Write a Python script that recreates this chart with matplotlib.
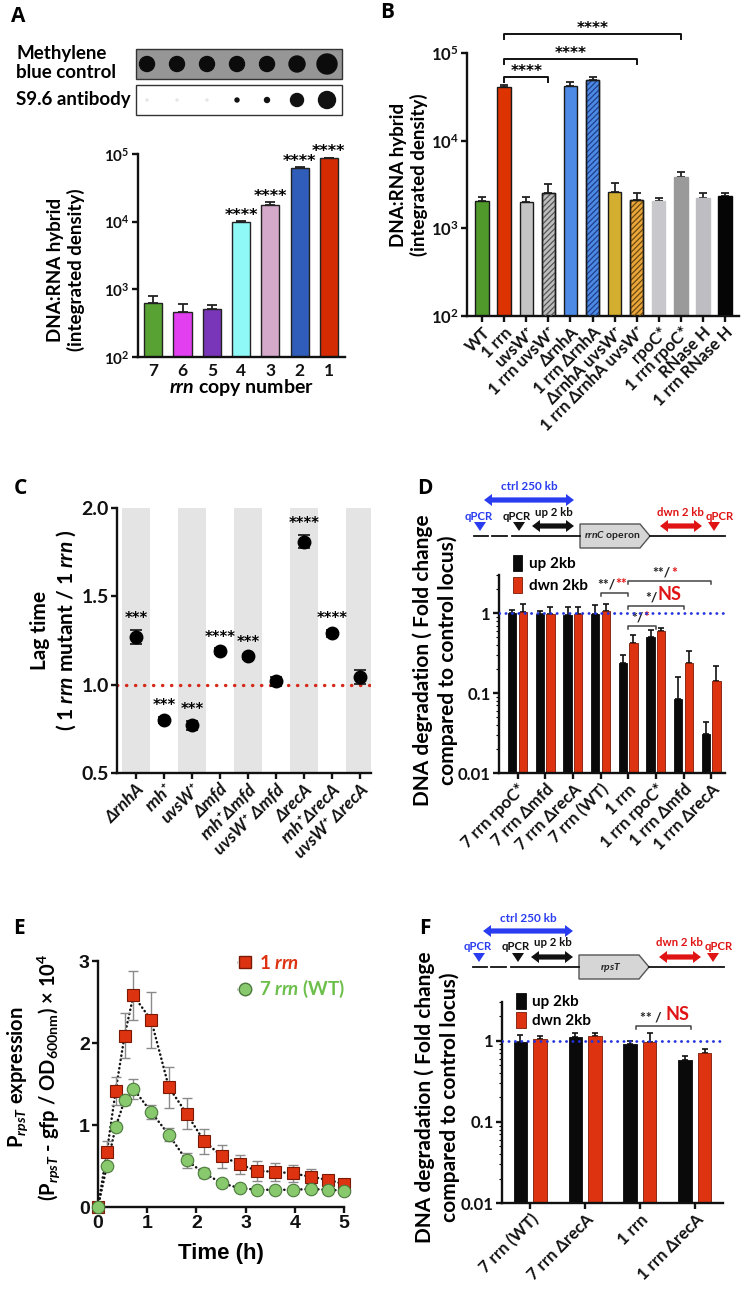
import numpy as np
import matplotlib
matplotlib.use('Agg')
import matplotlib.pyplot as plt
from matplotlib.patches import Polygon, Circle, Rectangle, Patch
from matplotlib.lines import Line2D
from matplotlib.ticker import FixedLocator, FixedFormatter, NullLocator, LogLocator, NullFormatter

plt.rcParams['font.family'] = ['Lato', 'DejaVu Sans']
plt.rcParams['font.weight'] = 'bold'
plt.rcParams['axes.labelweight'] = 'bold'
plt.rcParams['mathtext.fontset'] = 'custom'
plt.rcParams['mathtext.rm'] = 'Lato:bold'
plt.rcParams['mathtext.it'] = 'Lato:italic:bold'
plt.rcParams['mathtext.bf'] = 'Lato:bold'
plt.rcParams['hatch.linewidth'] = 0.9

# ---------------- DATA ----------------
# Panel A
a_labels = ['7', '6', '5', '4', '3', '2', '1']
a_values = [620, 470, 520, 10000, 17800, 62000, 87000]
a_err = [190, 130, 60, 150, 1700, 1500, 1500]
a_colors = ['#57a232', '#e23ff0', '#7a36b9', '#8ff9f7', '#d5a9c9', '#2f5db9', '#d42b02']
a_sig = ['', '', '', '****', '****', '****', '****']
blot_methylene = [15, 15, 15, 15, 15, 16, 20]   # dot diameters (px)
blot_s96 = [2, 2, 2, 4, 5, 13, 17]

# Panel B
b_labels = ['WT', '1 rrn', 'uvsW⁺', '1 rrn uvsW⁺', 'ΔrnhA', '1 rrn ΔrnhA', 'ΔrnhA uvsW⁺',
            '1 rrn ΔrnhA uvsW⁺', 'rpoC*', '1 rrn rpoC*', 'RNase H', '1 rrn RNase H']
b_values = [2040, 41000, 1990, 2500, 42000, 49000, 2600, 2100, 2040, 3900, 2200, 2320]
b_err = [210, 2500, 260, 700, 5000, 4000, 650, 400, 160, 450, 300, 180]
b_colors = ['#4f9a2b', '#dc3300', '#c4c4c4', '#bdbdbd', '#4c8ae6', '#4c8ae6', '#d4af2f',
            '#eaa63a', '#c8c8cc', '#9a9a9a', '#bdbdc2', '#050505']
b_edges = ['#1a1a1a', '#1a1a1a', '#1a1a1a', '#1a1a1a', '#1a1a1a', '#1a1a1a', '#1a1a1a',
           '#1a1a1a', '#c8c8cc', '#9a9a9a', '#bdbdc2', '#050505']
b_hatch = [None, None, None, '//////', None, '//////', None, '//////', None, None, None, None]
b_hatch_colors = [None, None, None, '#555555', None, '#1f3f8a', None, '#6a4a10', None, None, None, None]
b_brackets = [(1, 3, '****'), (1, 7, '****'), (1, 9, '****')]
b_bracket_y = [53200, 85000, 165000]

# Panel C
c_labels = ['ΔrnhA', 'rnh⁺', 'uvsW⁺', 'Δmfd', 'rnh⁺Δmfd', 'uvsW⁺ Δmfd', 'ΔrecA', 'rnh⁺ΔrecA', 'uvsW⁺ ΔrecA']
c_values = [1.27, 0.80, 0.77, 1.19, 1.16, 1.02, 1.81, 1.29, 1.045]
c_err = [0.04, 0.015, 0.025, 0.015, 0.015, 0.025, 0.035, 0.02, 0.04]
c_sig = ['***', '***', '***', '****', '***', '', '****', '****', '']

# Panel D
d_labels = ['7 rrn rpoC*', '7 rrn Δmfd', '7 rrn ΔrecA', '7 rrn (WT)', '1 rrn',
            '1 rrn rpoC*', '1 rrn Δmfd', '1 rrn ΔrecA']
d_up = [1.0, 0.97, 0.95, 0.97, 0.24, 0.50, 0.085, 0.031]
d_up_err = [0.10, 0.08, 0.24, 0.30, 0.06, 0.11, 0.075, 0.012]
d_dwn = [1.02, 0.98, 0.97, 1.05, 0.42, 0.60, 0.235, 0.14]
d_dwn_err = [0.28, 0.22, 0.21, 0.25, 0.11, 0.05, 0.10, 0.08]
d_brackets = [(3, 4, '**/', '**', 1.78), (4, 7, '**/', '*', 2.5), (4, 6, '*/', 'NS', 1.22), (4, 5, '*/', '*', 0.69)]

# Panel E
e_time = [0, 0.18, 0.36, 0.54, 0.72, 1.08, 1.44, 1.80, 2.16, 2.52, 2.88, 3.24, 3.60, 3.96, 4.32, 4.68, 5.0]
e_one = [0.0, 0.67, 1.42, 2.09, 2.58, 2.28, 1.46, 1.14, 0.80, 0.62, 0.52, 0.44, 0.43, 0.41, 0.37, 0.33, 0.28]
e_one_err = [0.0, 0.13, 0.17, 0.27, 0.30, 0.34, 0.25, 0.19, 0.15, 0.14, 0.12, 0.12, 0.11, 0.10, 0.09, 0.05, 0.03]
e_wt = [0.0, 0.50, 0.98, 1.30, 1.44, 1.16, 0.88, 0.57, 0.41, 0.29, 0.23, 0.21, 0.21, 0.21, 0.22, 0.21, 0.20]
e_wt_err = [0.0, 0.03, 0.04, 0.06, 0.12, 0.09, 0.08, 0.09, 0.06, 0.05, 0.03, 0.02, 0.02, 0.02, 0.02, 0.02, 0.02]

# Panel F
f_labels = ['7 rrn (WT)', '7 rrn ΔrecA', '1 rrn', '1 rrn ΔrecA']
f_up = [0.97, 1.12, 0.90, 0.58]
f_up_err = [0.20, 0.11, 0.08, 0.07]
f_dwn = [1.05, 1.14, 0.97, 0.70]
f_dwn_err = [0.10, 0.09, 0.26, 0.10]
f_brackets = [(1.93, 2.93, '** / ', 'NS', 1.52)]

RED = '#d93010'
BLACK = '#0a0a0a'
STAR_FONT = ['DejaVu Sans']

# ---------------- FIGURE ----------------
W, H = 744, 1300
fig = plt.figure(figsize=(W / 100, H / 100), dpi=100)


def rect(x0, y0, x1, y1):
    return [x0 / W, 1 - y1 / H, (x1 - x0) / W, (y1 - y0) / H]


def ftext(x, y, s, **kw):
    return fig.text(x / W, 1 - y / H, s, **kw)


def style(ax, lw=1.7):
    for s in ['top', 'right']:
        ax.spines[s].set_visible(False)
    for s in ['left', 'bottom']:
        ax.spines[s].set_linewidth(lw)
        ax.spines[s].set_color('#111111')
    ax.tick_params(width=lw, length=4, direction='out', colors='#111111', pad=2)
    ax.patch.set_alpha(0)


# overlay for schematics (pixel units)
ov = fig.add_axes([0, 0, 1, 1])
ov.set_xlim(0, W)
ov.set_ylim(H, 0)
ov.axis('off')

# panel letters
for lab, (x, y) in zip('ABCDEF', [(18, 17), (387, 13), (20, 488), (425, 489), (19, 928), (425, 928)]):
    ftext(x, y, lab, fontsize=15, ha='center', va='center', family=['Open Sans', 'DejaVu Sans'])

# ---- Panel A: blot ----
ov.add_patch(Rectangle((136, 49), 206, 30, facecolor='#969696', edgecolor='#333', lw=1))
ov.add_patch(Rectangle((136, 85), 206, 30, facecolor='white', edgecolor='#333', lw=1))
for i, (d1, d2) in enumerate(zip(blot_methylene, blot_s96)):
    cx = 147 + 30 * i
    ov.add_patch(Circle((cx, 64), d1 / 2, color='#0c0c0c'))
    ov.add_patch(Circle((cx, 100), d2 / 2, color='#111' if d2 > 3 else '#e6e6e6'))
ftext(16, 63, 'Methylene\nblue control', fontsize=13.5, ha='left', va='center', linespacing=1.2)
ftext(16, 100, 'S9.6 antibody', fontsize=13.5, ha='left', va='center')

# ---- Panel A: chart ----
axA = fig.add_axes(rect(138, 154, 345, 357))
style(axA)
xa = np.arange(len(a_labels))
axA.errorbar(xa, a_values, yerr=[np.zeros(len(xa)), a_err], fmt='none', ecolor='#222',
             elinewidth=1.3, capsize=3.5, capthick=1.3, zorder=1)
axA.bar(xa, a_values, width=0.62, color=a_colors, edgecolor='#222', linewidth=1.0, zorder=2)
axA.set_yscale('log')
axA.set_ylim(1e2, 1e5)
axA.set_xlim(-0.52, 6.55)
axA.yaxis.set_minor_locator(NullLocator())
axA.set_xticks(xa)
axA.set_xticklabels(a_labels, fontsize=12.5)
axA.tick_params(axis='x', length=0, pad=4)
axA.tick_params(axis='y', labelsize=11)
for i, s in enumerate(a_sig):
    if s:
        axA.annotate(s, (i, a_values[i] + a_err[i]), xytext=(0, 1), textcoords='offset points',
                     ha='center', va='baseline', fontsize=11.5, annotation_clip=False, family=STAR_FONT)
ftext(241, 387, r'$\it{rrn}$ copy number', fontsize=14, ha='center', va='center')
ftext(66, 270, 'DNA:RNA hybrid\n(integrated density)', fontsize=13.5, rotation=90,
      ha='center', va='center', linespacing=1.2)

# ---- Panel B ----
axB = fig.add_axes(rect(467, 53, 739, 316))
style(axB)
xb = np.arange(len(b_labels))
axB.errorbar(xb, b_values, yerr=[np.zeros(len(xb)), b_err], fmt='none', ecolor='#222',
             elinewidth=1.3, capsize=3, capthick=1.3, zorder=1)
axB.bar(xb, b_values, width=0.6, color=b_colors, edgecolor=b_edges, linewidth=1.0, zorder=2)
for i, h in enumerate(b_hatch):
    if h:
        axB.bar(xb[i], b_values[i], width=0.6, color='none', edgecolor=b_hatch_colors[i],
                hatch=h, linewidth=0, zorder=3)
        axB.bar(xb[i], b_values[i], width=0.6, color='none', edgecolor='#1a1a1a', linewidth=1.0, zorder=4)
axB.set_yscale('log')
axB.set_ylim(1e2, 1e5)
axB.set_xlim(-0.68, 11.63)
axB.yaxis.set_minor_locator(NullLocator())
axB.set_xticks(xb)
axB.set_xticklabels(b_labels, fontsize=12, rotation=45, ha='right', rotation_mode='anchor')
axB.tick_params(axis='y', labelsize=12)
for (i0, i1, s), yb in zip(b_brackets, b_bracket_y):
    axB.plot([i0, i0, i1, i1], [yb * 0.88, yb, yb, yb * 0.88], color='#111', lw=1.4,
             clip_on=False)
    axB.annotate(s, ((i0 + i1) / 2, yb), xytext=(0, 1), textcoords='offset points',
                 ha='center', va='baseline', fontsize=11, annotation_clip=False, family=STAR_FONT)
ftext(409, 175, 'DNA:RNA hybrid\n(integrated density)', fontsize=13.5, rotation=90,
      ha='center', va='center', linespacing=1.2)

# ---- Panel C ----
axC = fig.add_axes(rect(117, 508, 371, 773))
style(axC)
xc = np.arange(len(c_labels))
for i in xc[::2]:
    axC.axvspan(i - 0.5, i + 0.5, color='#e4e4e4', lw=0, zorder=0)
axC.axhline(1.0, color='#d52a1a', lw=2.4, linestyle=(0, (0.1, 2.6)), dash_capstyle='round', zorder=1)
axC.errorbar(xc, c_values, yerr=c_err, fmt='o', color='black', ms=9, ecolor='#111',
             elinewidth=1.2, capsize=4, capthick=1.2, zorder=3)
axC.set_xlim(-0.68, 8.39)
axC.set_ylim(0.5, 2.0)
axC.set_yticks([0.5, 1.0, 1.5, 2.0])
axC.set_yticklabels(['0.5', '1.0', '1.5', '2.0'], fontsize=14)
axC.set_xticks(xc)
axC.set_xticklabels(c_labels, fontsize=12.5, rotation=45, ha='right', rotation_mode='anchor',
                    style='italic')
for i, s in enumerate(c_sig):
    if s:
        axC.annotate(s, (i, c_values[i] + c_err[i]), xytext=(0, 5), textcoords='offset points',
                     ha='center', va='baseline', fontsize=10.5, annotation_clip=False, family=STAR_FONT)
ftext(54, 630, 'Lag time\n( 1 $\\it{rrn}$ mutant / 1 $\\it{rrn}$ )', fontsize=15, rotation=90,
      ha='center', va='center', linespacing=1.25)


# ---- schematics D / F ----
def dbl_arrow(x0, x1, yc, color, t=2.6, h=6, L=8):
    pts = [(x0, yc), (x0 + L, yc - h), (x0 + L, yc - t), (x1 - L, yc - t), (x1 - L, yc - h),
           (x1, yc), (x1 - L, yc + h), (x1 - L, yc + t), (x0 + L, yc + t), (x0 + L, yc + h)]
    ov.add_patch(Polygon(pts, closed=True, color=color, lw=0))


def tri(x, y, color):
    ov.add_patch(Polygon([(x - 6, y - 5), (x + 6, y - 5), (x, y + 4)], closed=True, color=color, lw=0))


def schematic(dy, dx, label):
    blue = '#2a3cf0'
    red = '#e01414'
    ly = 536 + dy
    for a, b in [(474, 488), (492, 507)]:
        ov.plot([a + dx, b + dx], [ly, ly], color='#111', lw=1.3)
    ov.plot([512 + dx, 580 + dx], [ly, ly], color='#111', lw=1.3)
    ov.plot([650 + dx, 725 + dx], [ly, ly], color='#111', lw=1.3)
    ov.add_patch(Polygon([(580 + dx, ly - 12), (640 + dx, ly - 12), (650 + dx, ly), (640 + dx, ly + 12),
                          (580 + dx, ly + 12)], closed=True, facecolor='#d6d6d6', edgecolor='#555', lw=1))
    ov.text(612 + dx, ly, label, fontsize=7.5, ha='center', va='center', color='#222')
    dbl_arrow(484 + dx, 574 + dx, 500 + dy, blue)
    ov.text(529 + dx, 487 + dy, 'ctrl 250 kb', fontsize=8.5, ha='center', va='center', color=blue)
    tri(480 + dx, 527 + dy, blue)
    ov.text(479 + dx, 516 + dy, 'qPCR', fontsize=8.2, ha='center', va='center', color=blue)
    tri(519 + dx, 527 + dy, '#111')
    ov.text(517 + dx, 516 + dy, 'qPCR', fontsize=8.2, ha='center', va='center', color='#111')
    dbl_arrow(532 + dx, 574 + dx, 526 + dy, '#111')
    ov.text(554 + dx, 512 + dy, 'up 2 kb', fontsize=8.2, ha='center', va='center', color='#111')
    dbl_arrow(660 + dx, 702 + dx, 526 + dy, red)
    ov.text(680 + dx, 512 + dy, 'dwn 2 kb', fontsize=8.2, ha='center', va='center', color=red)
    tri(714 + dx, 527 + dy, red)
    ov.text(720 + dx, 516 + dy, 'qPCR', fontsize=8.2, ha='center', va='center', color=red)


schematic(0, 0, r'$\it{rrnC}$ operon')
schematic(431, -1, r'$\it{rpsT}$')


def deg_panel(ax, labels, up, up_err, dwn, dwn_err, width, off, xlim, leg_anchor, leg_spacing):
    style(ax)
    x = np.arange(len(labels))
    ax.axhline(1.0, color='#2233dd', lw=2.0, linestyle=(0, (0.1, 2.2)), dash_capstyle='round', zorder=5)
    ax.errorbar(x - off, up, yerr=[np.zeros(len(x)), up_err], fmt='none', ecolor='#111',
                elinewidth=1.2, capsize=2.5, capthick=1.2, zorder=1)
    ax.errorbar(x + off, dwn, yerr=[np.zeros(len(x)), dwn_err], fmt='none', ecolor='#111',
                elinewidth=1.2, capsize=2.5, capthick=1.2, zorder=1)
    ax.bar(x - off, up, width=width, color=BLACK, edgecolor=BLACK, lw=0.6, zorder=2, label='up 2kb')
    ax.bar(x + off, dwn, width=width, color='#dd3311', edgecolor='#7a1a05', lw=0.6, zorder=2, label='dwn 2kb')
    ax.set_yscale('log')
    ax.set_ylim(0.01, 3)
    ax.set_xlim(*xlim)
    ax.yaxis.set_major_locator(FixedLocator([0.01, 0.1, 1]))
    ax.yaxis.set_major_formatter(FixedFormatter(['0.01', '0.1', '1']))
    ax.yaxis.set_minor_locator(LogLocator(subs=np.arange(2, 10)))
    ax.yaxis.set_minor_formatter(NullFormatter())
    ax.tick_params(axis='y', which='minor', length=2, width=0.8)
    ax.tick_params(axis='y', labelsize=12)
    ax.set_xticks(x)
    ax.set_xticklabels(labels, fontsize=12, rotation=45, ha='right', rotation_mode='anchor')
    ax.legend(loc='upper left', bbox_to_anchor=leg_anchor, frameon=False, fontsize=11,
              handlelength=0.6, handleheight=1.2, handletextpad=0.45, labelspacing=leg_spacing,
              borderaxespad=0, borderpad=0)


def bracket(ax, x0, x1, y, s1, s2, fs2):
    ax.plot([x0, x0, x1, x1], [y * 0.92, y, y, y * 0.92], color='#444', lw=1.1, clip_on=False)
    xm = (x0 + x1) / 2
    ax.annotate(s1, (xm, y), xytext=(1, 2), textcoords='offset points', ha='right', va='bottom',
                fontsize=10, annotation_clip=False, color='#222')
    ax.annotate(s2, (xm, y), xytext=(1, 2), textcoords='offset points', ha='left', va='bottom',
                fontsize=fs2, annotation_clip=False, color='#e01414')


# ---- Panel D ----
axD = fig.add_axes(rect(499, 575, 725, 773))
deg_panel(axD, d_labels, d_up, d_up_err, d_dwn, d_dwn_err, 0.3, 0.19, (-0.67, 7.5), (0.06, 1.1), 0.4)
for x0, x1, s1, s2, yb in d_brackets:
    bracket(axD, x0, x1, yb, s1, s2, 13 if s2 == 'NS' else 10)
ftext(435, 660, 'DNA degradation ( Fold change\ncompared to control locus)', fontsize=15,
      rotation=90, ha='center', va='center', linespacing=1.3)

# ---- Panel E ----
axE = fig.add_axes(rect(98, 961, 344, 1207))
style(axE)
axE.plot(e_time, e_one, color='#111', lw=1.8, linestyle=(0, (0.1, 1.6)), dash_capstyle='round', zorder=1)
axE.plot(e_time, e_wt, color='#111', lw=1.8, linestyle=(0, (0.1, 1.6)), dash_capstyle='round', zorder=1)
axE.errorbar(e_time, e_one, yerr=e_one_err, fmt='none', ecolor='#8a8a8a', elinewidth=1.0,
             capsize=3.5, capthick=1.0, zorder=2)
axE.errorbar(e_time, e_wt, yerr=e_wt_err, fmt='none', ecolor='#8a8a8a', elinewidth=1.0,
             capsize=3.5, capthick=1.0, zorder=2)
axE.plot(e_time, e_one, 's', color='#dd3311', mec='#7a1a05', mew=0.8, ms=9, zorder=3, clip_on=False)
axE.plot(e_time, e_wt, 'o', color='#88c96e', mec='#4c7a3c', mew=0.8, ms=9, zorder=4, clip_on=False)
axE.set_xlim(0, 5)
axE.set_ylim(0, 3)
axE.set_xticks([0, 1, 2, 3, 4, 5])
axE.set_yticks([0, 1, 2, 3])
axE.tick_params(labelsize=14)
for t in axE.get_xticklabels() + axE.get_yticklabels():
    t.set_family(['Liberation Sans', 'DejaVu Sans'])
h1 = Line2D([], [], marker='s', color='#111', linestyle=(0, (0.1, 1.6)), lw=1.8,
            mfc='#dd3311', mec='#7a1a05', ms=9)
h2 = Line2D([], [], marker='o', color='#111', linestyle=(0, (0.1, 1.6)), lw=1.8,
            mfc='#88c96e', mec='#4c7a3c', ms=9)
axE.legend([h1, h2], ['1 $\\it{rrn}$', '7 $\\it{rrn}$ (WT)'], loc='upper left',
           bbox_to_anchor=(0.565, 1.03), frameon=False, fontsize=13.5, handlelength=0.9,
           handletextpad=0.3, labelspacing=0.35, borderpad=0, borderaxespad=0,
           labelcolor=['#dd3311', '#6cbf4a'])
ftext(221, 1253, 'Time (h)', fontsize=16, ha='center', va='center', family=['Liberation Sans', 'DejaVu Sans'])
ftext(34, 1077, 'P$_{\\it{rpsT}}$ expression\n(P$_{\\it{rpsT}}$ - gfp / OD$_{\\mathrm{600nm}}$) × 10$^{4}$',
      fontsize=14.5, rotation=90, ha='center', va='center', linespacing=1.25)

# ---- Panel F ----
axF = fig.add_axes(rect(502, 1002, 723, 1203))
deg_panel(axF, f_labels, f_up, f_up_err, f_dwn, f_dwn_err, 0.24, 0.18, (-0.51, 3.51), (0.065, 1.045), 0.2)
for x0, x1, s1, s2, yb in f_brackets:
    bracket(axF, x0, x1, yb, s1, s2, 13)
ftext(437, 1097, 'DNA degradation ( Fold change\ncompared to control locus)', fontsize=15,
      rotation=90, ha='center', va='center', linespacing=1.3)

fig.savefig('out.png', dpi=100)
